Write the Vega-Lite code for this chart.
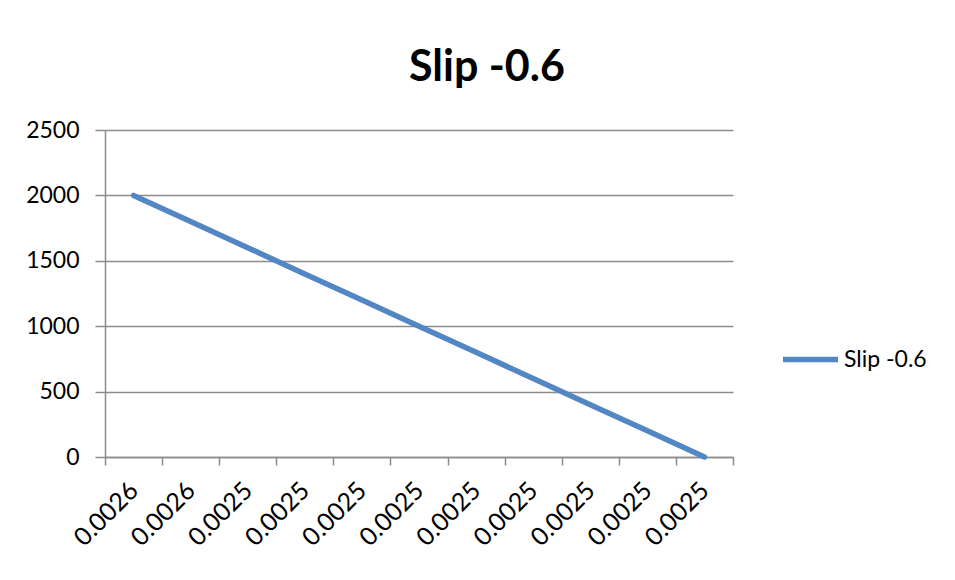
{
  "$schema": "https://vega.github.io/schema/vega-lite/v6.json",
  "width": 628,
  "height": 327,
  "autosize": "none",
  "padding": {"left": 105, "top": 130, "right": 222, "bottom": 123},
  "background": "white",
  "title": {
    "text": "Slip -0.6",
    "font": "Lato",
    "fontSize": 43,
    "fontWeight": "bold",
    "color": "#000000",
    "anchor": "middle",
    "frame": "group",
    "dx": 68,
    "offset": 29
  },
  "data": {
    "values": [
      {"i": 0, "slip": "0.0026", "value": 2000, "series": "Slip -0.6"},
      {"i": 1, "slip": "0.0026", "value": 1800, "series": "Slip -0.6"},
      {"i": 2, "slip": "0.0025", "value": 1600, "series": "Slip -0.6"},
      {"i": 3, "slip": "0.0025", "value": 1400, "series": "Slip -0.6"},
      {"i": 4, "slip": "0.0025", "value": 1200, "series": "Slip -0.6"},
      {"i": 5, "slip": "0.0025", "value": 1000, "series": "Slip -0.6"},
      {"i": 6, "slip": "0.0025", "value": 800, "series": "Slip -0.6"},
      {"i": 7, "slip": "0.0025", "value": 600, "series": "Slip -0.6"},
      {"i": 8, "slip": "0.0025", "value": 400, "series": "Slip -0.6"},
      {"i": 9, "slip": "0.0025", "value": 200, "series": "Slip -0.6"},
      {"i": 10, "slip": "0.0025", "value": 0, "series": "Slip -0.6"}
    ]
  },
  "mark": {"type": "line", "strokeWidth": 5.5, "strokeCap": "round"},
  "encoding": {
    "x": {
      "field": "i",
      "type": "ordinal",
      "scale": {"type": "band", "paddingInner": 0, "paddingOuter": 0},
      "axis": {
        "title": null,
        "labelExpr": "datum.label ? (+datum.value < 2 ? '0.0026' : '0.0025') : ''",
        "labelAngle": -45,
        "labelAlign": "right",
        "labelBaseline": "middle",
        "labelFont": "Lato",
        "labelFontSize": 25,
        "labelColor": "#000000",
        "labelPadding": 21,
        "tickBand": "extent",
        "tickSize": 8,
        "tickColor": "#8c8c8c",
        "tickWidth": 1.5,
        "domainColor": "#8c8c8c",
        "domainWidth": 1.5,
        "grid": false
      }
    },
    "y": {
      "field": "value",
      "type": "quantitative",
      "scale": {"domain": [0, 2500], "nice": false},
      "axis": {
        "title": null,
        "values": [0, 500, 1000, 1500, 2000, 2500],
        "format": "d",
        "labelFont": "Lato",
        "labelFontSize": 23,
        "labelColor": "#000000",
        "labelPadding": 16,
        "tickSize": 10,
        "tickColor": "#8c8c8c",
        "tickWidth": 1.5,
        "domainColor": "#8c8c8c",
        "domainWidth": 1.5,
        "grid": true,
        "gridColor": "#8c8c8c",
        "gridWidth": 1.5
      }
    },
    "color": {
      "field": "series",
      "type": "nominal",
      "scale": {"range": ["#5286C5"]},
      "legend": {
        "title": null,
        "orient": "none",
        "legendX": 675,
        "legendY": 199,
        "symbolType": "stroke",
        "symbolSize": 3025,
        "symbolStrokeWidth": 5.5,
        "labelFont": "Lato",
        "labelFontSize": 23,
        "labelColor": "#000000",
        "labelOffset": 3
      }
    }
  },
  "config": {"view": {"stroke": null}}
}
